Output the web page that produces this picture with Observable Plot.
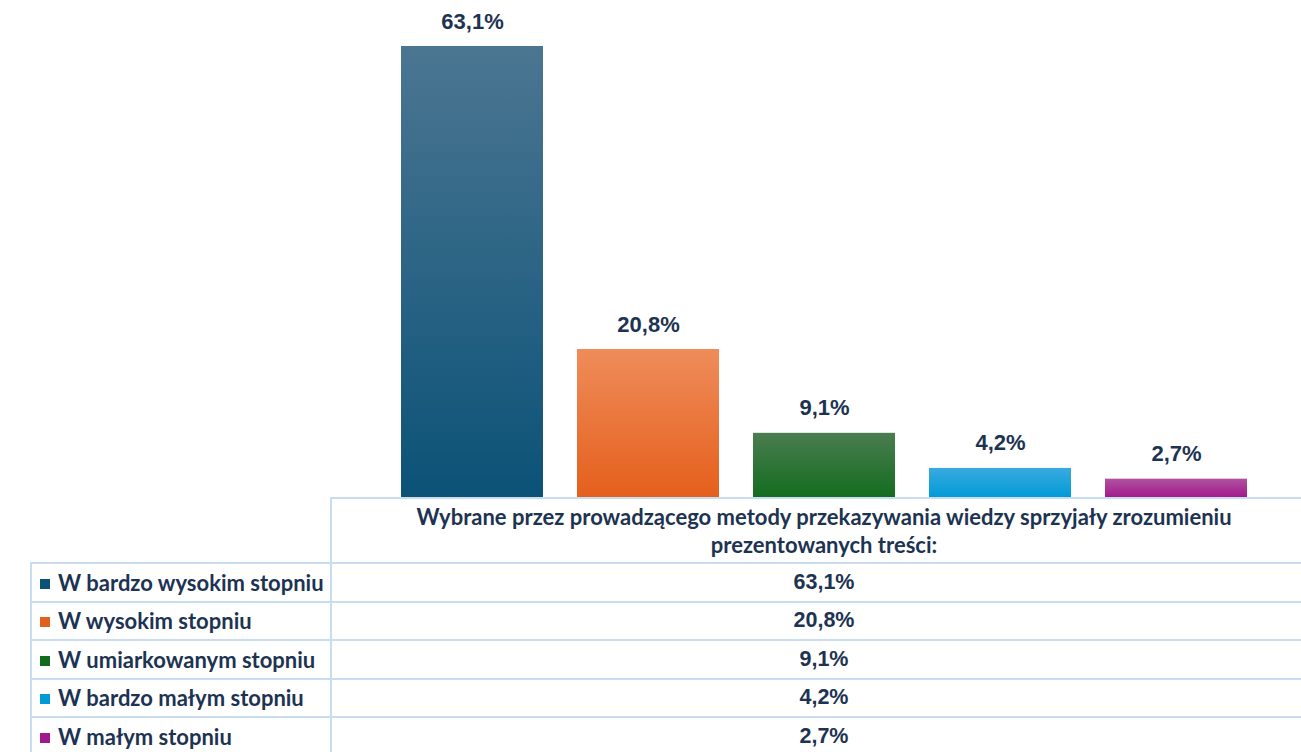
<!DOCTYPE html>
<html>
<head>
<meta charset="utf-8">
<script src="https://cdn.jsdelivr.net/npm/d3@7"></script>
<script src="https://cdn.jsdelivr.net/npm/@observablehq/plot@0.6"></script>
<style>
  html, body { margin: 0; padding: 0; background: #fff; }
  #wrap { position: relative; width: 1301px; height: 752px; overflow: hidden; }
  #wrap svg { display: block; }
  table.dt { position: absolute; left: 30px; top: 497px; width: 1286px; border-collapse: collapse; table-layout: fixed; color: #1d3352; }
  table.dt td { border: 2px solid #c9ddf2; padding: 0; }
  table.dt td.blank { border: none; }
  table.dt td.head { font-family: Lato, sans-serif; font-weight: 700; font-size: 22px; line-height: 28px; text-align: center; height: 63px; padding: 0 68px; }
  table.dt td.lab { font-family: Lato, sans-serif; font-weight: 700; font-size: 22px; height: 36.5px; padding-left: 8px; white-space: nowrap; }
  table.dt td.val { font-family: "Liberation Sans", Arial, sans-serif; font-weight: 700; font-size: 21.5px; text-align: center; height: 36.5px; }
  .sq { display: inline-block; width: 10px; height: 10px; margin-right: 8px; vertical-align: 2px; }
</style>
</head>
<body>
<div id="wrap"></div>
<script>
const categories = ["W bardzo wysokim stopniu", "W wysokim stopniu", "W umiarkowanym stopniu", "W bardzo małym stopniu", "W małym stopniu"];
const values = [63.1, 20.8, 9.1, 4.2, 2.7];
const labels = ["63,1%", "20,8%", "9,1%", "4,2%", "2,7%"];
const baseColors = ["#0b5277", "#e55f1c", "#136c1e", "#009ad6", "#a0188c"];
const topColors = ["#4b7692", "#ef8c5a", "#4a7d50", "#3aaae0", "#b0529f"];
const seriesTitle = "Wybrane przez prowadzącego metody przekazywania wiedzy sprzyjały zrozumieniu prezentowanych treści:";

const data = categories.map((c, i) => ({cat: c, value: values[i], label: labels[i]}));

const chart = Plot.plot({
  width: 1301,
  height: 498,
  marginTop: 46,
  marginBottom: 0,
  marginLeft: 366,
  marginRight: 20,
  x: {domain: categories, padding: 0.195, axis: null},
  y: {domain: [0, 63.1], axis: null},
  color: {domain: categories, range: categories.map((_, i) => `url(#grad${i})`)},
  marks: [
    Plot.barY(data, {x: "cat", y: "value", fill: "cat"}),
    Plot.text(data, {x: "cat", y: "value", text: "label", lineAnchor: "bottom", dy: -18,
      fontSize: 22, fontWeight: "bold", fill: "#1d3352", fontFamily: "Liberation Sans, Arial, sans-serif"})
  ]
});

const defs = d3.select(chart).insert("defs", ":first-child");
categories.forEach((_, i) => {
  const g = defs.append("linearGradient").attr("id", `grad${i}`).attr("x1", 0).attr("y1", 0).attr("x2", 0).attr("y2", 1);
  g.append("stop").attr("offset", "0%").attr("stop-color", topColors[i]);
  g.append("stop").attr("offset", "100%").attr("stop-color", baseColors[i]);
});

const wrap = d3.select("#wrap");
wrap.node().appendChild(chart);

const table = wrap.append("table").attr("class", "dt");
const cg = table.append("colgroup");
cg.append("col").style("width", "300px");
cg.append("col").style("width", "986px");
const hr = table.append("tr");
hr.append("td").attr("class", "blank");
hr.append("td").attr("class", "head").text(seriesTitle);
categories.forEach((c, i) => {
  const tr = table.append("tr");
  const l = tr.append("td").attr("class", "lab");
  l.append("span").attr("class", "sq").style("background", baseColors[i]);
  l.append("span").text(c);
  tr.append("td").attr("class", "val").text(labels[i]);
});
</script>
</body>
</html>
